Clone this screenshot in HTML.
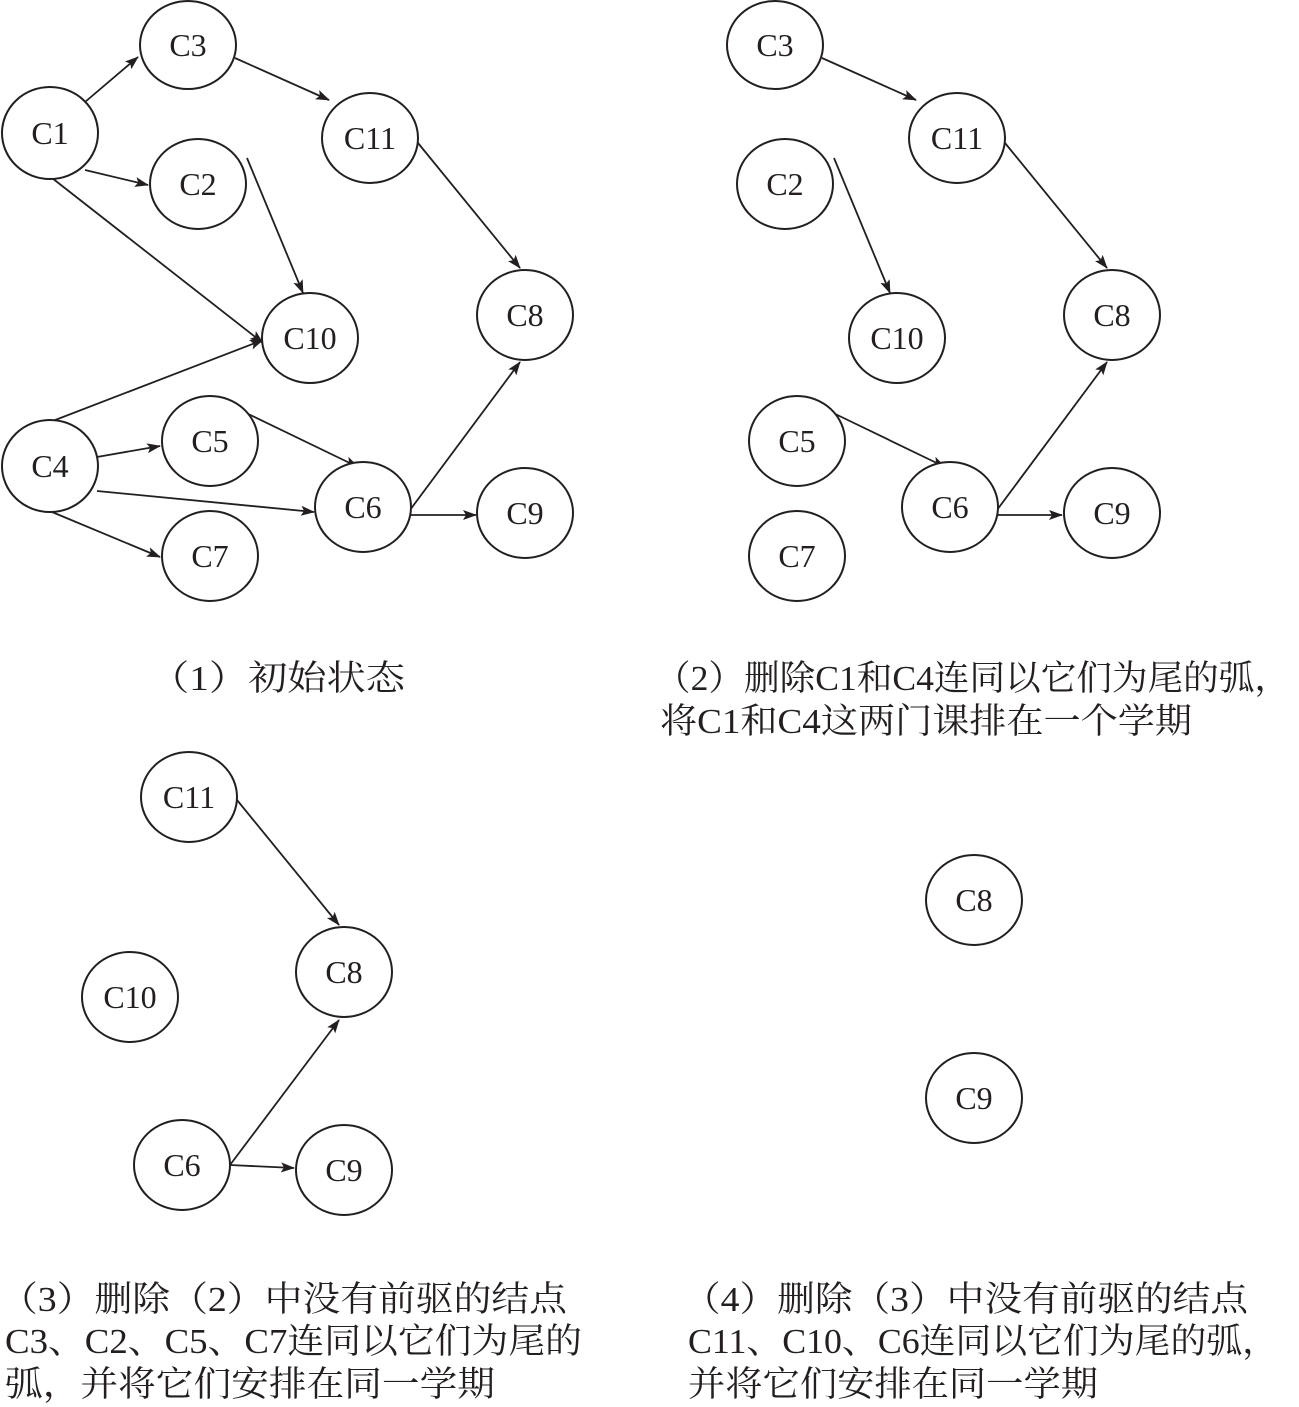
<!DOCTYPE html>
<html><head><meta charset="utf-8"><style>
html,body{margin:0;padding:0;background:#fff;}
svg{display:block;}
.n{fill:#fff;stroke:#231f20;stroke-width:2;}
.e{stroke:#231f20;stroke-width:1.8;fill:none;marker-end:url(#a);}
.l{font-family:"Liberation Serif","Noto Serif CJK SC",serif;font-size:32px;fill:#231f20;text-anchor:middle;dominant-baseline:central;}
.c{font-family:"Liberation Serif","Noto Serif CJK SC",serif;font-size:35px;fill:#231f20;}
</style></head><body>
<svg width="1299" height="1407" viewBox="0 0 1299 1407" xmlns="http://www.w3.org/2000/svg">
<defs><marker id="a" viewBox="0 0 14 10" refX="13" refY="5" markerWidth="14" markerHeight="10" markerUnits="userSpaceOnUse" orient="auto"><path d="M0,0 L14,5 L0,10 L3,5 Z" fill="#231f20"/></marker></defs>
<line class="e" x1="85" y1="102" x2="138" y2="57"/>
<line class="e" x1="235" y1="58" x2="329" y2="100"/>
<line class="e" x1="85" y1="170" x2="148" y2="185"/>
<line class="e" x1="52" y1="178" x2="263" y2="343"/>
<line class="e" x1="247" y1="158" x2="303" y2="293"/>
<line class="e" x1="418" y1="143" x2="520" y2="268"/>
<line class="e" x1="50" y1="422" x2="263" y2="340"/>
<line class="e" x1="97" y1="457" x2="160" y2="446"/>
<line class="e" x1="240" y1="410" x2="358" y2="467"/>
<line class="e" x1="97" y1="491" x2="314" y2="512"/>
<line class="e" x1="52" y1="512" x2="160" y2="557"/>
<line class="e" x1="410" y1="510" x2="520" y2="362"/>
<line class="e" x1="410" y1="515" x2="476" y2="515"/>
<line class="e" x1="822" y1="58" x2="916" y2="100"/>
<line class="e" x1="834" y1="158" x2="890" y2="293"/>
<line class="e" x1="1005" y1="143" x2="1107" y2="268"/>
<line class="e" x1="827" y1="410" x2="945" y2="467"/>
<line class="e" x1="997" y1="510" x2="1107" y2="362"/>
<line class="e" x1="997" y1="515" x2="1062" y2="515"/>
<line class="e" x1="237" y1="800" x2="339" y2="925"/>
<line class="e" x1="230" y1="1165" x2="339" y2="1020"/>
<line class="e" x1="230" y1="1165" x2="294" y2="1168"/>
<g>
<ellipse class="n" cx="188" cy="45" rx="48" ry="44"/><text class="l" x="188" y="45">C3</text>
<ellipse class="n" cx="50" cy="133" rx="48" ry="46"/><text class="l" x="50" y="133">C1</text>
<ellipse class="n" cx="370" cy="138" rx="48" ry="45"/><text class="l" x="370" y="138">C11</text>
<ellipse class="n" cx="198" cy="184" rx="48" ry="45"/><text class="l" x="198" y="184">C2</text>
<ellipse class="n" cx="310" cy="338" rx="48" ry="45"/><text class="l" x="310" y="338">C10</text>
<ellipse class="n" cx="525" cy="315" rx="48" ry="45"/><text class="l" x="525" y="315">C8</text>
<ellipse class="n" cx="50" cy="466" rx="48" ry="46"/><text class="l" x="50" y="466">C4</text>
<ellipse class="n" cx="210" cy="441" rx="48" ry="45"/><text class="l" x="210" y="441">C5</text>
<ellipse class="n" cx="363" cy="507" rx="48" ry="45"/><text class="l" x="363" y="507">C6</text>
<ellipse class="n" cx="525" cy="513" rx="48" ry="45"/><text class="l" x="525" y="513">C9</text>
<ellipse class="n" cx="210" cy="556" rx="48" ry="45"/><text class="l" x="210" y="556">C7</text>
<ellipse class="n" cx="775" cy="45" rx="48" ry="44"/><text class="l" x="775" y="45">C3</text>
<ellipse class="n" cx="957" cy="138" rx="48" ry="45"/><text class="l" x="957" y="138">C11</text>
<ellipse class="n" cx="785" cy="184" rx="48" ry="45"/><text class="l" x="785" y="184">C2</text>
<ellipse class="n" cx="897" cy="338" rx="48" ry="45"/><text class="l" x="897" y="338">C10</text>
<ellipse class="n" cx="1112" cy="315" rx="48" ry="45"/><text class="l" x="1112" y="315">C8</text>
<ellipse class="n" cx="797" cy="441" rx="48" ry="45"/><text class="l" x="797" y="441">C5</text>
<ellipse class="n" cx="950" cy="507" rx="48" ry="45"/><text class="l" x="950" y="507">C6</text>
<ellipse class="n" cx="1112" cy="513" rx="48" ry="45"/><text class="l" x="1112" y="513">C9</text>
<ellipse class="n" cx="797" cy="556" rx="48" ry="45"/><text class="l" x="797" y="556">C7</text>
<ellipse class="n" cx="189" cy="797" rx="48" ry="45"/><text class="l" x="189" y="797">C11</text>
<ellipse class="n" cx="344" cy="972" rx="48" ry="45"/><text class="l" x="344" y="972">C8</text>
<ellipse class="n" cx="130" cy="997" rx="48" ry="45"/><text class="l" x="130" y="997">C10</text>
<ellipse class="n" cx="182" cy="1165" rx="48" ry="45"/><text class="l" x="182" y="1165">C6</text>
<ellipse class="n" cx="344" cy="1170" rx="48" ry="45"/><text class="l" x="344" y="1170">C9</text>
<ellipse class="n" cx="974" cy="900" rx="48" ry="45"/><text class="l" x="974" y="900">C8</text>
<ellipse class="n" cx="974" cy="1098" rx="48" ry="45"/><text class="l" x="974" y="1098">C9</text>
</g>
<text class="c" x="150" y="690" textLength="255" lengthAdjust="spacingAndGlyphs">（1）初始状态</text>
<text class="c" x="655" y="690" textLength="635" lengthAdjust="spacingAndGlyphs">（2）删除C1和C4连同以它们为尾的弧，</text>
<text class="c" x="660" y="733" textLength="532" lengthAdjust="spacingAndGlyphs">将C1和C4这两门课排在一个学期</text>
<text class="c" x="0" y="1311" textLength="567" lengthAdjust="spacingAndGlyphs">（3）删除（2）中没有前驱的结点</text>
<text class="c" x="5" y="1353" textLength="577" lengthAdjust="spacingAndGlyphs">C3、C2、C5、C7连同以它们为尾的</text>
<text class="c" x="5" y="1396" textLength="490" lengthAdjust="spacingAndGlyphs">弧，并将它们安排在同一学期</text>
<text class="c" x="683" y="1311" textLength="565" lengthAdjust="spacingAndGlyphs">（4）删除（3）中没有前驱的结点</text>
<text class="c" x="688" y="1353" textLength="590" lengthAdjust="spacingAndGlyphs">C11、C10、C6连同以它们为尾的弧，</text>
<text class="c" x="688" y="1396" textLength="410" lengthAdjust="spacingAndGlyphs">并将它们安排在同一学期</text>
</svg>
</body></html>
